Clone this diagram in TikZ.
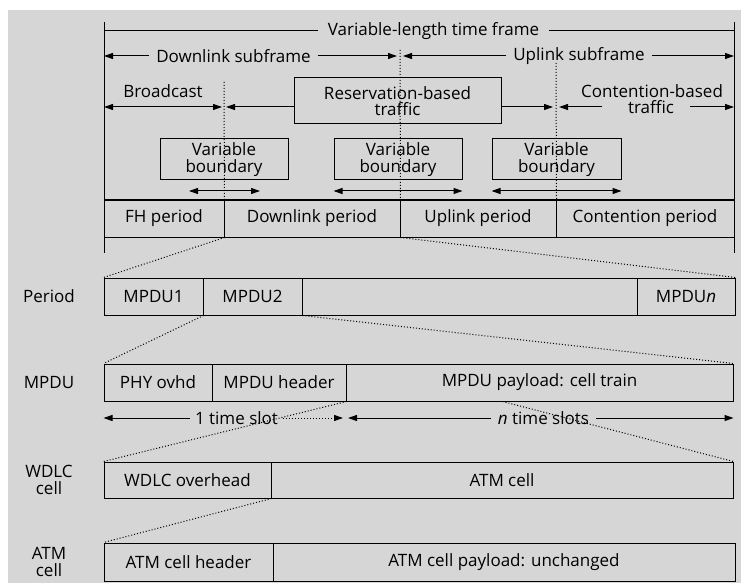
\documentclass[tikz,border=0pt]{standalone}
\usepackage{fontspec}
\setmainfont{Open Sans}
\usetikzlibrary{arrows.meta,calc}
\definecolor{bg}{RGB}{214,214,214}
\begin{document}
\begin{tikzpicture}[x=1pt,y=-1pt,
  font=\fontsize{17}{16.5}\selectfont,
  cell/.style={draw=black, line width=1pt, rectangle, inner sep=0pt, align=center},
  lab/.style={inner sep=0pt, inner xsep=7pt, align=center},
  conn/.style={dotted, line width=1pt},
  plain/.style={line width=1pt},
  arr/.style={line width=1pt, -{Triangle[length=9pt,width=6pt]}},
  darr/.style={line width=1pt, {Triangle[length=9pt,width=6pt]}-{Triangle[length=9pt,width=6pt]}},
  ]
\useasboundingbox (0,0) rectangle (741,588);
\fill[bg] (8,10) rectangle (741,583);

% frame verticals
\coordinate (tl) at (104,22); \coordinate (bl) at (104,253);
\coordinate (tr) at (734,22); \coordinate (br) at (734,253);
\draw[plain] (tl) -- (bl);
\draw[plain] (tr) -- (br);

% variable-length time frame
\node[lab, inner xsep=10pt] (vl) at (433.5,31) {Variable-length time frame};
\draw[plain] (tl |- vl) -- (vl.west);
\draw[plain] (vl.east) -- (tr |- vl);

% subframes
\node[lab] (dls) at (233.5,56) {Downlink subframe};
\coordinate (dlend) at (397,56);
\draw[arr] (dls.west) -- (tl |- dls);
\draw[arr] (dls.east) -- (dlend);
\node[lab] (uls) at (579,56) {Uplink subframe};
\coordinate (ulstart) at (403,56);
\draw[arr] (uls.west) -- (ulstart);
\draw[arr] (uls.east) -- (tr |- uls);

% period row
\node[cell, minimum width=120pt, minimum height=37pt] (fh) at (164,218.5) {FH period};
\node[cell, minimum width=176pt, minimum height=37pt] (dl) at (312,218.5) {Downlink period};
\node[cell, minimum width=156pt, minimum height=37pt] (ul) at (478,218.5) {Uplink period};
\node[cell, minimum width=178pt, minimum height=37pt] (ct) at (645,218.5) {Contention period};

% broadcast / reservation / contention
\coordinate (ya) at (0,107);
\node[lab] (bc) at (163,91) {Broadcast};
\node[cell, minimum width=207pt, minimum height=46pt] (res) at (397.5,101) {Reservation-based\\traffic};
\coordinate (bcR) at (222,107);
\coordinate (rsL) at (226,107);
\coordinate (rsR) at (553,107);
\coordinate (ctL) at (559,107);
\coordinate (ctm1) at (602,107);
\coordinate (ctm2) at (690,107);
\draw[darr] (tl |- ya) -- (bcR);
\draw[arr] (res.west |- ya) -- (rsL);
\draw[arr] (res.east |- ya) -- (rsR);
\node[lab] (ct1) at (652,91) {Contention-based};
\node[lab] (ct2) at (651,107) {traffic};
\draw[arr] (ctm1) -- (ctL);
\draw[arr] (ctm2) -- (tr |- ya);

% variable boundary boxes
\node[cell, minimum width=128pt, minimum height=41pt] (vb1) at (224,159.5) {Variable\\boundary};
\node[cell, minimum width=128pt, minimum height=41pt] (vb2) at (398,159.5) {Variable\\boundary};
\node[cell, minimum width=129pt, minimum height=41pt] (vb3) at (556.5,159.5) {Variable\\boundary};
\coordinate (yb) at (0,191);
\coordinate (vb1L) at (189,191);
\coordinate (vb1R) at (260,191);
\draw[darr] (vb1L) -- (vb1R);
\draw[darr] (vb2.west |- yb) -- (vb2.east |- yb);
\draw[darr] (vb3.west |- yb) -- (vb3.east |- yb);

% dotted boundaries
\coordinate (d1top) at (224,82);
\coordinate (d2top) at (400,50);
\coordinate (d3top) at (556,63);
\draw[conn] (d1top) -- (fh.north east);
\draw[conn] (d2top) -- (dl.north east);
\draw[conn] (d3top) -- (ul.north east);

% MPDU period row
\node[lab] (lp) at (49,296) {Period};
\node[cell, minimum width=99pt, minimum height=37pt] (m1) at (153.5,296.5) {MPDU1};
\node[cell, minimum width=99pt, minimum height=37pt] (m2) at (252.5,296.5) {MPDU2};
\node[cell, minimum width=335pt, minimum height=37pt] (mb) at (469.5,296.5) {};
\node[cell, minimum width=98pt, minimum height=37pt] (mn) at (686,296.5) {MPDU\textit{n}};
\draw[conn] (fh.south east) -- (m1.north west);
\draw[conn] (dl.south east) -- (mn.north east);

% MPDU row
\node[lab] (lm) at (49,383) {MPDU};
\node[cell, minimum width=108pt, minimum height=37pt] (phy) at (158,382.5) {PHY ovhd};
\node[cell, minimum width=134pt, minimum height=37pt] (hdr) at (279,382.5) {MPDU header};
\node[cell, minimum width=387pt, minimum height=37pt] (pay) at (539.5,382.5) {MPDU payload: cell train};
\draw[conn] (m1.south east) -- (phy.north west);
\draw[conn] (m2.south east) -- (pay.north east);

% time slots
\node[lab, inner xsep=5pt] (ts1) at (236.5,418) {1 time slot};
\coordinate (ts1R) at (343,418);
\draw[arr] (ts1.west) -- (phy.west |- ts1);
\draw[arr, dotted] (ts1.east) -- (ts1R);
\node[lab] (ts2) at (543.5,418) {\textit{n} time slots};
\coordinate (ts2L) at (348,418);
\draw[arr] (ts2.west) -- (ts2L);
\draw[arr] (ts2.east) -- (pay.east |- ts2);

% WDLC row
\node[lab] (lw) at (49,480) {WDLC\\cell};
\node[cell, minimum width=167pt, minimum height=36pt] (wo) at (187.5,480) {WDLC overhead};
\node[cell, minimum width=462pt, minimum height=36pt] (atm) at (502,480) {ATM cell};
\coordinate (payc) at ($(pay.south west)!0.405!(pay.south east)$);
\draw[conn] (hdr.south east) -- (wo.north west);
\draw[conn] (payc) -- (atm.north east);

% ATM row
\node[lab] (la) at (49,562) {ATM\\cell};
\node[cell, minimum width=169pt, minimum height=38pt] (ah) at (188.5,562) {ATM cell header};
\node[cell, minimum width=462pt, minimum height=38pt] (ap) at (504,562) {ATM cell payload: unchanged};
\draw[conn] (wo.south east) -- (ah.north west);
\end{tikzpicture}
\end{document}
